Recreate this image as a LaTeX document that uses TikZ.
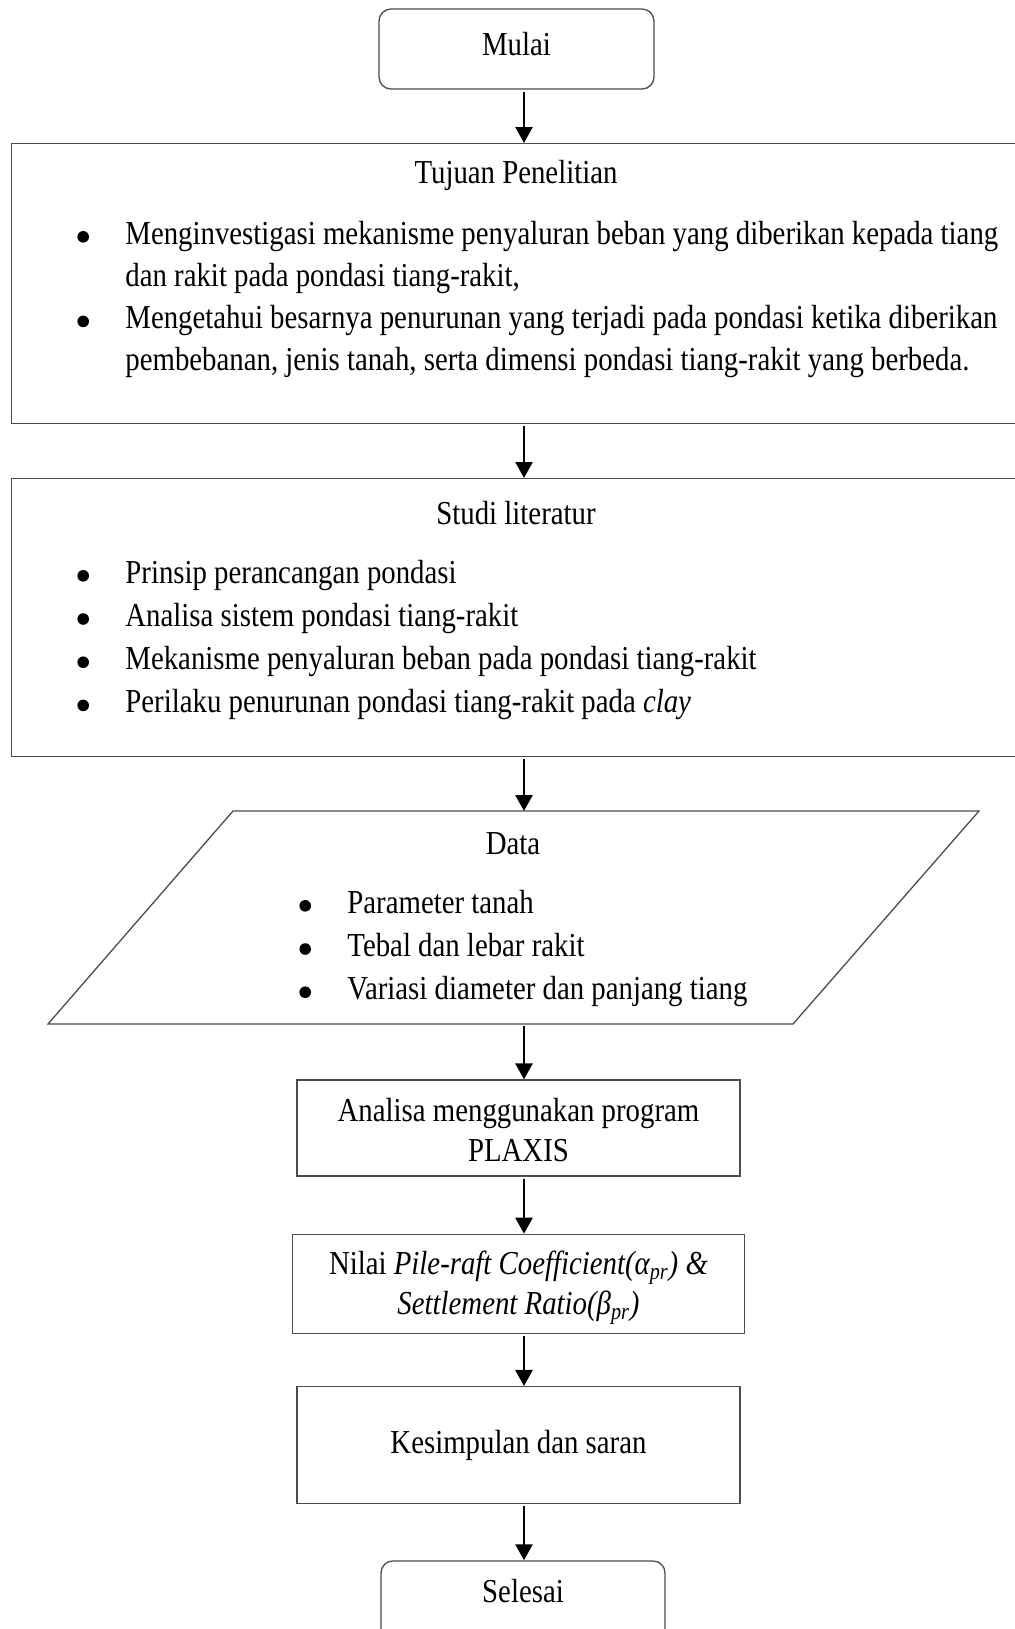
\documentclass[tikz,border=0pt]{standalone}
\usepackage{fontspec}
\setmainfont{Liberation Serif}[FakeStretch=0.86]
\usetikzlibrary{arrows.meta, positioning}
\newcommand{\butir}{\tikz[baseline={(0pt,-3.6pt)}] \fill[black] (0pt,0pt) circle[radius=2.9pt];}

\begin{document}
\begin{tikzpicture}[x=0.5pt, y=-0.5pt,
        every node/.style={inner sep=0pt, font=\fontsize{16.75}{21}\selectfont},
        box/.style={draw=black!70, line width=0.65pt},
        terminal/.style={box, rounded corners=6pt, text height=11.5pt, text depth=5.5pt},
        arr/.style={-{Triangle[width=8.5pt, length=8pt]}, line width=1.3pt, shorten <=1pt}]
        \useasboundingbox (0,0) rectangle (1015,1629);
        \coordinate (ax) at (524,0);

        \node[terminal, minimum width=137.5pt, minimum height=40pt] (mulai) at (516.5,49) {Mulai};

        \node[box, anchor=north west, minimum width=520pt, minimum height=140pt] (tujuan) at (11,143) {};
        \node[anchor=base] (tujuan-judul) at (516,183) {Tujuan Penelitian};
        \node[anchor=base west] (tujuan-isi) at (77,244) {\begin{tabular}[t]{@{}l@{\hspace{18.2pt}}l@{}}
            \butir & Menginvestigasi mekanisme penyaluran beban yang diberikan kepada tiang\\
                   & dan rakit pada pondasi tiang-rakit,\\[0.3pt]
            \butir & Mengetahui besarnya penurunan yang terjadi pada pondasi ketika diberikan\\
                   & pembebanan, jenis tanah, serta dimensi pondasi tiang-rakit yang berbeda.
        \end{tabular}};

        \node[box, anchor=north west, minimum width=520pt, minimum height=139pt] (studi) at (11,478) {};
        \node[anchor=base] (studi-judul) at (516,524) {Studi literatur};
        \node[anchor=base west] (studi-isi) at (77,583) {\begin{tabular}[t]{@{}l@{\hspace{18.2pt}}l@{}}
            \butir & Prinsip perancangan pondasi\\[0.6pt]
            \butir & Analisa sistem pondasi tiang-rakit\\[0.6pt]
            \butir & Mekanisme penyaluran beban pada pondasi tiang-rakit\\[0.6pt]
            \butir & Perilaku penurunan pondasi tiang-rakit pada \textit{clay}
        \end{tabular}};

        \coordinate (data-nw) at (233,811);
        \coordinate (data-ne) at (979,811);
        \coordinate (data-se) at (793,1024);
        \coordinate (data-sw) at (48,1024);
        \draw[box] (data-nw) -- (data-ne) -- (data-se) -- (data-sw) -- cycle;
        \node[anchor=base] (data-judul) at (513,854) {Data};
        \node[anchor=base west] (data-isi) at (299,913) {\begin{tabular}[t]{@{}l@{\hspace{18.2pt}}l@{}}
            \butir & Parameter tanah\\[0.6pt]
            \butir & Tebal dan lebar rakit\\[0.6pt]
            \butir & Variasi diameter dan panjang tiang
        \end{tabular}};

        \node[box, minimum width=221.5pt, minimum height=48pt] (analisa) at (518.5,1128) {};
        \node[anchor=base, yshift=3.5pt] (analisa-teks) at (analisa.center) {\begin{tabular}[t]{@{}c@{}}
            Analisa menggunakan program\\[-1pt]
            PLAXIS
        \end{tabular}};

        \node[box, below=28.5pt of analisa, minimum width=226pt, minimum height=49.5pt] (nilai) {};
        \node[anchor=base, yshift=4.75pt] (nilai-teks) at (nilai.center) {\begin{tabular}[t]{@{}c@{}}
            Nilai \textit{Pile-raft Coefficient(α\textsubscript{pr}) \&}\\[-1pt]
            \textit{Settlement Ratio(β\textsubscript{pr})}
        \end{tabular}};

        \node[box, below=26pt of nilai, minimum width=221.5pt, minimum height=58.5pt] (kesimpulan) {Kesimpulan dan saran};

        \node[terminal, below=28pt of kesimpulan, xshift=2.25pt, minimum width=142pt, minimum height=40pt, text depth=9.5pt] (selesai) {Selesai};

        \foreach \a/\b in {mulai/tujuan, tujuan/studi, analisa/nilai, nilai/kesimpulan, kesimpulan/selesai}
            \draw[arr] (\a.south -| ax) -- (\b.north -| ax);
        \draw[arr] (studi.south -| ax) -- (data-nw -| ax);
        \draw[arr] (data-sw -| ax) -- (analisa.north -| ax);
\end{tikzpicture}
\end{document}
